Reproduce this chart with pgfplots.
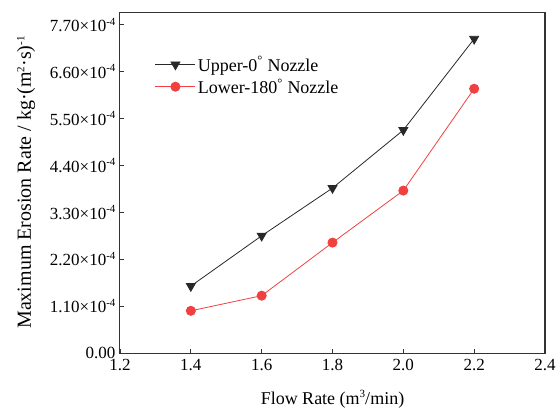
\documentclass[border=0pt]{standalone}
\usepackage{pgfplots}
\pgfplotsset{compat=1.18}
\usepackage{fontspec}
\setmainfont{Liberation Serif}
\definecolor{myred}{RGB}{240,64,64}
\definecolor{mydark}{RGB}{40,40,40}
\newcommand{\mysup}[1]{\raisebox{6.5pt}{\fontsize{11}{11}\selectfont #1}}
\newcommand{\ex}{×10\mysup{-4}}
\begin{document}
\begin{tikzpicture}
\path[use as bounding box] (-120pt,-59pt) rectangle (439pt,353pt);
\begin{axis}[
  at={(0,0)}, anchor=south west,
  scale only axis, width=425pt, height=341pt,
  axis lines=box,
  xmin=1.2, xmax=2.4, ymin=0, ymax=8.0e-4,
  xtick={1.2,1.4,1.6,1.8,2.0,2.2,2.4},
  xticklabels={1.2,1.4,1.6,1.8,2.0,2.2,2.4},
  ytick={0,1.1e-4,2.2e-4,3.3e-4,4.4e-4,5.5e-4,6.6e-4,7.7e-4},
  yticklabels={0.00,1.10\ex,2.20\ex,3.30\ex,4.40\ex,5.50\ex,6.60\ex,7.70\ex},
  scaled y ticks=false,
  tick align=inside, xtick pos=bottom, ytick pos=left,
  major tick length=4pt,
  axis line style={line width=1pt, black!80},
  tick style={line width=0.8pt, black!80},
  tick label style={font=\fontsize{17}{19}\selectfont},
  xticklabel style={yshift=-3pt},
  yticklabel style={xshift=-1pt},
  xlabel={Flow Rate (m\mysup{3}/min)},
  ylabel={Maximum Erosion Rate / kg·(m\mysup{2}·s)\mysup{-1}},
  xlabel style={font=\fontsize{18}{20}\selectfont, at={(0.5,0)}, anchor=north, yshift=-34pt},
  every axis y label/.append style={font=\fontsize{20}{22}\selectfont, at={(ticklabel cs:0.5)}, anchor=south, yshift=8pt},
  legend style={at={(0.082,0.876)}, anchor=north west, draw=none, fill=none,
    font=\fontsize{18}{20}\selectfont, row sep=2pt, inner sep=0pt},
  legend cell align=left,
  legend image code/.code={\draw[mark repeat=2,mark phase=2] plot coordinates {(0pt,0pt)(20pt,0pt)(40pt,0pt)};},
]
\addplot[mydark, line width=0.8pt, mark=triangle*, mark options={rotate=180, scale=2.6, fill=mydark}]
  coordinates {(1.4,1.57e-4) (1.6,2.75e-4) (1.8,3.87e-4) (2.0,5.23e-4) (2.2,7.37e-4)};
\addlegendentry{Upper-0\textsuperscript{°} Nozzle}
\addplot[myred, line width=0.8pt, mark=*, mark options={scale=2.3, fill=myred}]
  coordinates {(1.4,0.99e-4) (1.6,1.345e-4) (1.8,2.59e-4) (2.0,3.81e-4) (2.2,6.2e-4)};
\addlegendentry{Lower-180\textsuperscript{°} Nozzle}
\end{axis}
\draw[line width=1.6pt, black!80] (-0.5pt,340.6pt) -- (424.6pt,340.6pt) -- (424.6pt,-0.5pt);
\end{tikzpicture}
\end{document}
